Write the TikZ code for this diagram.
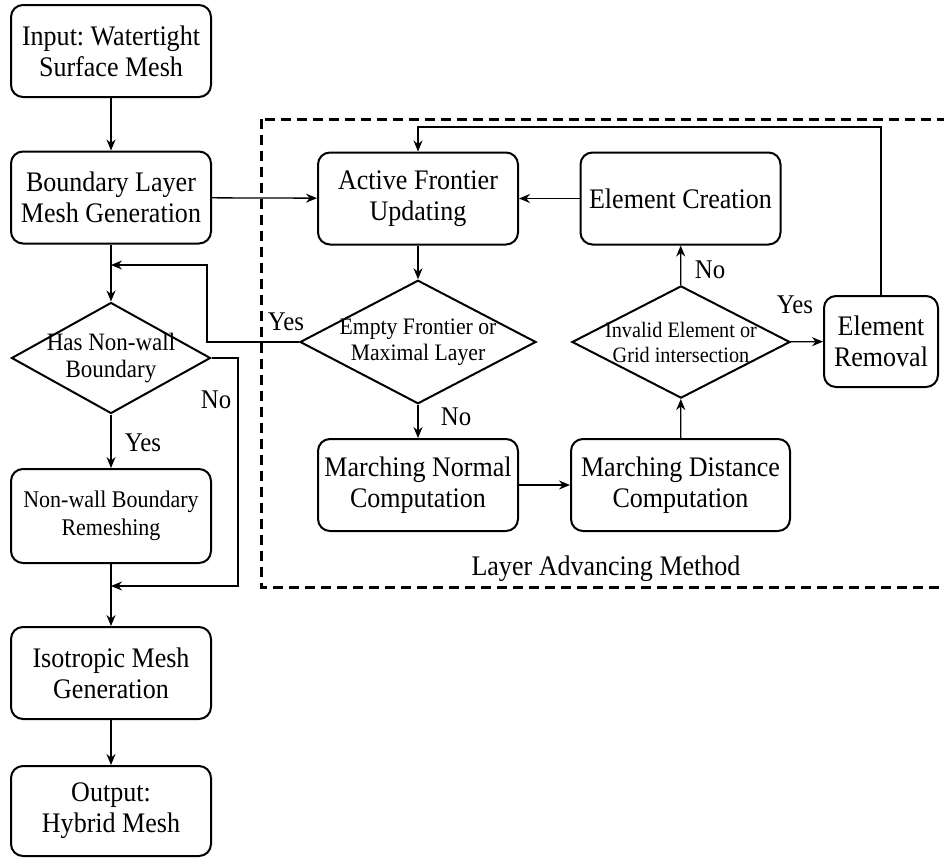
\documentclass[tikz,border=0pt]{standalone}
\usepackage{fontspec}
\setmainfont{Liberation Serif}[FakeStretch=0.92]
\usetikzlibrary{arrows.meta,shapes.geometric,positioning}
\frenchspacing

\tikzset{
	box/.style={draw, rounded corners=12pt, line width=2pt, align=center,
		minimum width=200pt, minimum height=92pt, inner sep=2pt,
		font=\fontsize{28.3}{31}\selectfont},
	dec/.style={draw, diamond, line width=2pt, align=center,
		inner xsep=-30pt, inner ysep=-10pt},
	wire/.style={line width=1.3pt},
	arr/.style={wire, -{Stealth[length=11pt,width=9pt]}},
	lab/.style={font=\fontsize{27}{30}\selectfont, inner sep=0pt},
}

\begin{document}
\begin{tikzpicture}[x=1pt, y=-1pt]
\useasboundingbox (0,0) rectangle (944,857);
\clip (0,0) rectangle (944,857);

% left column
\node[box] (inp) at (111,51) {Input: Watertight\\Surface Mesh};
\node[box] (blg) at (111,197.5) {Boundary Layer\\Mesh Generation};
\node[dec, minimum width=199pt, minimum height=111pt,
	font=\fontsize{25}{27}\selectfont] (hnw) at (111,358) {Has Non-wall\\Boundary};
\node[box, minimum height=94pt, font=\fontsize{23.9}{28}\selectfont] (nwr) at (111,516)
	{Non-wall Boundary\\Remeshing};
\node[box] (iso) at (111,673) {Isotropic Mesh\\Generation};
\node[box, minimum height=90pt] (out) at (111,811) {Output:\\Hybrid Mesh};

% layer advancing method
\draw[dashed, dash pattern=on 10pt off 6pt, line width=3pt] (261,119) rectangle (960,587);
\node[box] (afu) at (418,198.5) {Active Frontier\\Updating};
\node[box] (ecr) at (680.5,198.5) {Element Creation};
\node[dec, minimum width=236pt, minimum height=111pt,
	font=\fontsize{23.6}{26}\selectfont] (efm) at (418,342) {Empty Frontier or\\Maximal Layer};
\node[dec, minimum width=218pt, minimum height=110pt,
	font=\fontsize{22}{25}\selectfont] (ied) at (681,342) {Invalid Element or\\Grid intersection};
\node[box, minimum width=114pt, minimum height=91pt] (ere) at (881,341.5) {Element\\Removal};
\node[box] (mnc) at (418,485) {Marching Normal\\Computation};
\node[box, minimum width=219pt] (mdc) at (680.5,485) {Marching Distance\\Computation};
\node[lab, anchor=base, font=\fontsize{28.3}{31}\selectfont] (lam) at (606,575) {Layer Advancing Method};

\coordinate (j1) at (111,265);
\coordinate (j2) at (111,586);

% main line
\draw[arr] (inp) -- (blg);
\draw[arr] (blg) -- (hnw);
\draw[arr] (hnw) -- (nwr);
\draw[arr] (nwr) -- (iso);
\draw[arr] (iso) -- (out);
\draw[arr] (blg) -- (afu);

% feedback arrows into the main line
\draw[arr] (efm.west) -- (207,342) -- (207,265) -- (j1);
\draw[arr] (hnw.east) -- (238,358) -- (238,586) -- (j2);

% loop
\draw[arr] (afu) -- (efm);
\draw[arr] (efm) -- (mnc);
\draw[arr] (mnc) -- (mdc);
\draw[arr] (mdc) -- (ied);
\draw[arr] (ied) -- (ecr);
\draw[arr] (ecr) -- (afu);
\draw[arr] (ied) -- (ere);
\draw[arr] (ere.north) -- (881,127) -- (418,127) -- (afu.north);

% labels
\node[lab] (y1) at (286,322) {Yes};
\node[lab] (n1) at (216,400) {No};
\node[lab] (y2) at (143,443) {Yes};
\node[lab] (n2) at (456,417) {No};
\node[lab] (n3) at (710,270) {No};
\node[lab] (y3) at (795,305) {Yes};
\end{tikzpicture}
\end{document}
